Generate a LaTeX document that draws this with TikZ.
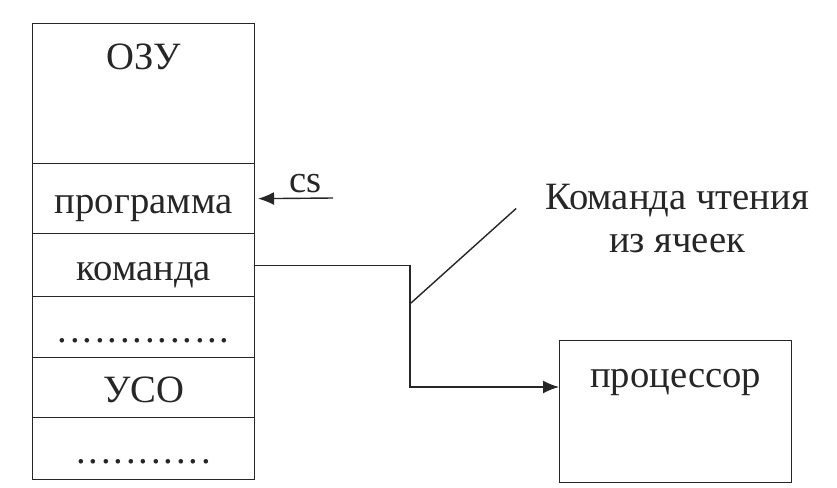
\documentclass[tikz,border=0pt]{standalone}
\usepackage{fontspec}
\setmainfont{Liberation Serif}
\usetikzlibrary{arrows.meta}
\tikzset{%
	cell/.style     = {draw, rectangle, anchor=north west, minimum width=4.44cm, text height=0.6cm, text depth=0pt, inner ysep=0pt},
	toplabel/.style = {anchor=base, yshift=-0.94cm},
	arrow/.style    = {-{Latex[length=3.2mm,width=2.6mm]}},
}
\newcommand{\dotrow}[1]{.\foreach \i in {2,...,#1}{\kern1.6pt.}}

\begin{document}
\begin{tikzpicture}[line width=0.8pt, color=black!85, font=\fontsize{22}{25}\selectfont]
	\useasboundingbox (0,0) rectangle (16.74,-9.76);
	% memory stack
	\node (ozu)   [cell, minimum height=2.8cm, label={[toplabel]north:ОЗУ}] at (0.64,-0.46) {};
	\node (prog)  [cell, minimum height=1.4cm]  at (0.64,-3.26) {программа};
	\node (kom)   [cell, minimum height=1.26cm] at (0.64,-4.66) {команда};
	\node (dotsa) [cell, minimum height=1.22cm] at (0.64,-5.92) {\dotrow{14}};
	\node (uso)   [cell, minimum height=1.2cm]  at (0.64,-7.14) {УСО};
	\node (dotsb) [cell, minimum height=1.24cm] at (0.64,-8.34) {\dotrow{11}};
	
	% processor
	\node (proc) [draw, anchor=north west, minimum width=4.64cm, minimum height=2.84cm, label={[toplabel, name=procname]north:процессор}] at (11.18,-6.8) {};
	\node (readcmd) [align=center] at (13.54,-4.37) {Команда чтения\\из ячеек};
	
	\coordinate (csin) at (6.66,-3.96);
	\coordinate (jog) at (8.2,-7.74);
	\coordinate (tap) at (8.22,-6.06);
	
	\draw[arrow, shorten >=1.5pt] (csin) -- (prog.east) node[pos=0.35, anchor=base, yshift=0.12cm] (cslbl) {cs};
	\draw[arrow] (kom.east) -| (jog) |- (proc.west |- procname.base);
	\draw (tap) -- ([shift={(-0.45,0.2)}]readcmd.west);
\end{tikzpicture}
\end{document}
